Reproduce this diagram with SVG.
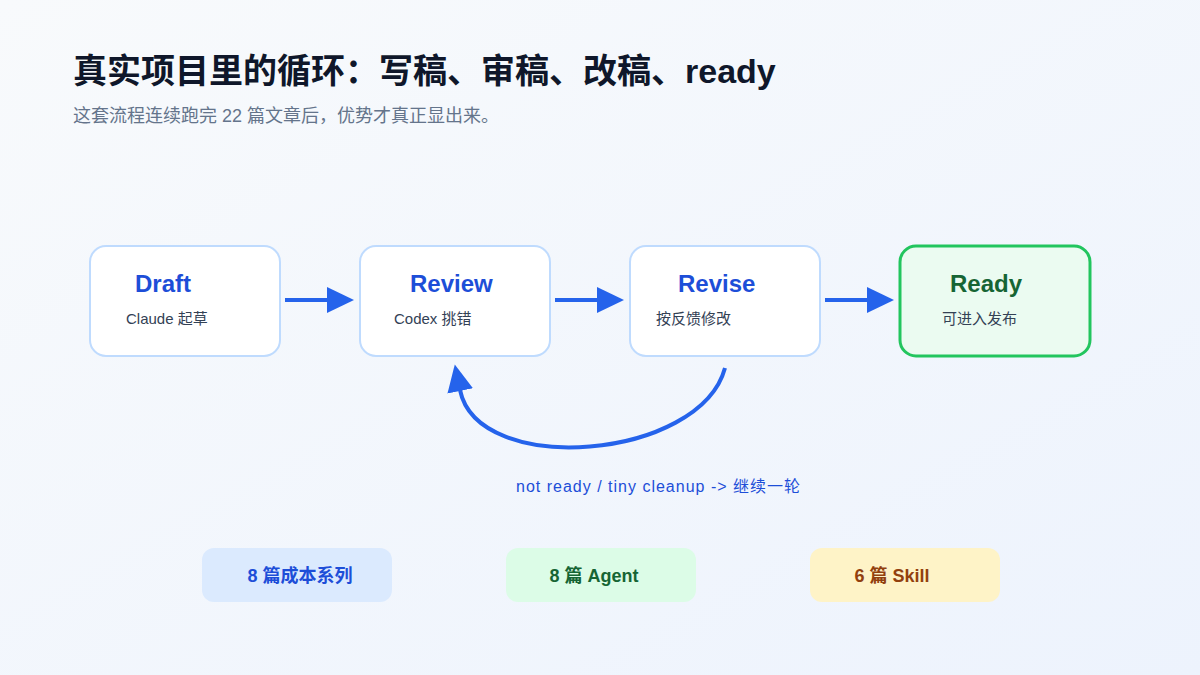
<svg xmlns="http://www.w3.org/2000/svg" width="1200" height="675" viewBox="0 0 1200 675">
<defs>
<linearGradient id="bg" x1="0" y1="0" x2="1" y2="1">
<stop offset="0" stop-color="#f8fafc"/>
<stop offset="1" stop-color="#edf3fd"/>
</linearGradient>
<marker id="ah" markerUnits="userSpaceOnUse" markerWidth="28" markerHeight="28" refX="1" refY="13" orient="auto" viewBox="0 0 28 26">
<path d="M0,0 L27,13 L0,26 z" fill="#2563eb"/>
</marker>
</defs>
<style>
text{font-family:"Liberation Sans","Noto Sans CJK SC",sans-serif}
.box{fill:#ffffff;stroke:#bfdbfe;stroke-width:2}
.ttl{font-size:24px;font-weight:bold;fill:#1d4ed8}
.sub{font-size:15px;fill:#334155}
.con{stroke:#2563eb;stroke-width:4;fill:none}
.pill{font-size:18px;font-weight:bold;text-anchor:middle}
</style>
<rect width="1200" height="675" fill="url(#bg)"/>
<g id="header">
<text x="73" y="83" font-size="34" font-weight="bold" fill="#0f172a">真实项目里的循环：写稿、审稿、改稿、ready</text>
<text x="73" y="122" font-size="18" fill="#64748b">这套流程连续跑完 22 篇文章后，优势才真正显出来。</text>
</g>
<g id="connectors">
<line class="con" x1="285" y1="300" x2="328" y2="300" marker-end="url(#ah)"/>
<line class="con" x1="555" y1="300" x2="598" y2="300" marker-end="url(#ah)"/>
<line class="con" x1="825" y1="300" x2="868" y2="300" marker-end="url(#ah)"/>
<path class="con" d="M725,368 C700,460 478,478 460,390" marker-end="url(#ah)"/>
<text x="516" y="492" font-size="16" letter-spacing="1" fill="#1d4ed8">not ready / tiny cleanup -&gt; 继续一轮</text>
</g>
<g id="draft">
<rect class="box" x="90" y="246" width="190" height="110" rx="16"/>
<text class="ttl" x="135" y="292">Draft</text>
<text class="sub" x="126" y="324">Claude 起草</text>
</g>
<g id="review">
<rect class="box" x="360" y="246" width="190" height="110" rx="16"/>
<text class="ttl" x="410" y="292">Review</text>
<text class="sub" x="394" y="324">Codex 挑错</text>
</g>
<g id="revise">
<rect class="box" x="630" y="246" width="190" height="110" rx="16"/>
<text class="ttl" x="678" y="292">Revise</text>
<text class="sub" x="656" y="324">按反馈修改</text>
</g>
<g id="ready">
<rect x="900" y="246" width="190" height="110" rx="16" fill="#ebfbf1" stroke="#22c55e" stroke-width="3"/>
<text class="ttl" x="950" y="292" style="fill:#166534">Ready</text>
<text class="sub" x="942" y="324">可进入发布</text>
</g>
<g id="pill-cost">
<rect x="202" y="548" width="190" height="54" rx="12" fill="#dbeafe"/>
<text class="pill" x="300" y="582" fill="#1d4ed8">8 篇成本系列</text>
</g>
<g id="pill-agent">
<rect x="506" y="548" width="190" height="54" rx="12" fill="#dcfce7"/>
<text class="pill" x="594" y="582" fill="#166534">8 篇 Agent</text>
</g>
<g id="pill-skill">
<rect x="810" y="548" width="190" height="54" rx="12" fill="#fef3c7"/>
<text class="pill" x="892" y="582" fill="#92400e">6 篇 Skill</text>
</g>
</svg>
